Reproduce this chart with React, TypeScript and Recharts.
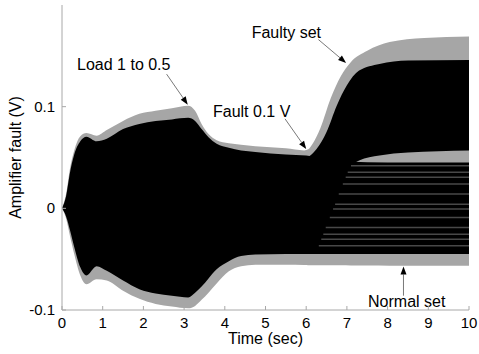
import React from 'react';
import { ComposedChart, Area, Line, XAxis, YAxis, ReferenceLine, ReferenceDot } from 'recharts';

// gray envelope around all trajectories
const envTime = [0, 0.1, 0.2, 0.3, 0.45, 0.6, 0.85, 1.1, 1.5, 1.9, 2.3, 2.7, 3.1, 3.27, 3.43, 3.6, 3.8, 4.1, 4.4, 4.75, 5.5, 5.95, 6.05, 6.15, 6.35, 6.6, 6.85, 7.1, 7.5, 8.05, 8.9, 10];
const envHigh = [0, 0.014, 0.04, 0.057, 0.071, 0.074, 0.0715, 0.077, 0.086, 0.093, 0.096, 0.0985, 0.101, 0.096, 0.083, 0.073, 0.067, 0.064, 0.0625, 0.061, 0.059, 0.057, 0.058, 0.063, 0.079, 0.108, 0.13, 0.144, 0.155, 0.1635, 0.1675, 0.169];
const envLow = [0, -0.01, -0.028, -0.045, -0.066, -0.0746, -0.0697, -0.071, -0.081, -0.089, -0.094, -0.0966, -0.0983, -0.096, -0.09, -0.083, -0.074, -0.062, -0.057, -0.0555, -0.0555, -0.0558, -0.056, -0.056, -0.056, -0.056, -0.056, -0.0562, -0.0563, -0.0564, -0.0565, -0.0565];

// normal set (black lines)
const normalTime = [0, 0.1, 0.2, 0.3, 0.45, 0.6, 0.85, 1.1, 1.5, 1.9, 2.3, 2.7, 3.1, 3.27, 3.43, 3.6, 3.8, 4.1, 4.4, 4.75, 5.5, 6.0, 6.5, 7, 8, 10];
const normalHigh = [0, 0.012, 0.036, 0.053, 0.066, 0.0705, 0.066, 0.0685, 0.078, 0.083, 0.086, 0.0875, 0.089, 0.086, 0.078, 0.07, 0.0635, 0.0595, 0.057, 0.0555, 0.053, 0.052, 0.048, 0.046, 0.045, 0.045];
const normalLow = [0, -0.008, -0.022, -0.038, -0.058, -0.066, -0.057, -0.0615, -0.071, -0.0795, -0.0838, -0.086, -0.0877, -0.083, -0.077, -0.069, -0.06, -0.052, -0.047, -0.0455, -0.045, -0.045, -0.045, -0.045, -0.045, -0.045];

// faulty set after the 0.1 V fault at 6 s
const faultyTime = [6.0, 6.1, 6.25, 6.5, 6.75, 7.0, 7.3, 7.8, 8.5, 10];
const faultyHigh = [0.05, 0.052, 0.058, 0.075, 0.101, 0.121, 0.1355, 0.142, 0.1455, 0.146];
const faultyLow = [-0.045, -0.044, -0.035, -0.012, 0.012, 0.036, 0.047, 0.052, 0.055, 0.057];

// lighter stripes among the steady normal-set lines (level, first visible time)
const stripeLevels = [0.042, 0.0355, 0.0305, 0.024, 0.014, 0.004, -0.0007, -0.009, -0.0188, -0.0254, -0.0304, -0.0369];
const stripeStarts = [7.1, 7.02, 6.97, 6.9, 6.8, 6.71, 6.66, 6.58, 6.48, 6.42, 6.37, 6.31];

const xTicks = [0, 1, 2, 3, 4, 5, 6, 7, 8, 9, 10];
const yTicks = [-0.1, 0, 0.1];
const yTickLabels = ['-0.1', '0', '0.1'];

const notes = [
  { text: 'Load 1 to 0.5', tx: 0.37, ty: 0.136, x1: 2.57, y1: 0.132, x2: 3.09, y2: 0.102 },
  { text: 'Faulty set', tx: 4.66, ty: 0.168, x1: 6.3, y1: 0.166, x2: 6.98, y2: 0.143 },
  { text: 'Fault 0.1 V', tx: 3.71, ty: 0.09, x1: 5.48, y1: 0.088, x2: 6.0, y2: 0.0584 },
  { text: 'Normal set', tx: 7.52, ty: -0.0975, x1: 8.39, y1: -0.0859, x2: 8.39, y2: -0.0572 },
];

const FONT = 'Arial, "Liberation Sans", sans-serif';
const AXIS = '#a8a8a8';
const GRAY = '#a6a6a6';

const band = (ts: number[], lo: number[], hi: number[]) =>
  ts.map((t, i) => ({ t, range: [lo[i], hi[i]] }));

const XTick = ({ x, y, payload }: any) => (
  <g>
    <line x1={x} y1={y} x2={x} y2={y - 4} stroke={AXIS} />
    <text x={x} y={y + 18} textAnchor="middle" fontSize={15} fontFamily={FONT} fill="#000">
      {payload.value}
    </text>
  </g>
);

const YTick = ({ x, y, payload, index }: any) => (
  <g>
    <line x1={x} y1={y} x2={x + 4} y2={y} stroke={AXIS} />
    <text x={x - 7} y={y + 5} textAnchor="end" fontSize={15} fontFamily={FONT} fill="#000">
      {yTickLabels[index] ?? payload.value}
    </text>
  </g>
);

const Arrow = (p: any) => {
  const { x1, y1, x2, y2 } = p;
  const dx = x2 - x1;
  const dy = y2 - y1;
  const len = Math.sqrt(dx * dx + dy * dy) || 1;
  const ux = dx / len;
  const uy = dy / len;
  const bx = x2 - ux * 8;
  const by = y2 - uy * 8;
  return (
    <g>
      <line x1={x1} y1={y1} x2={bx} y2={by} stroke="#555" strokeWidth={0.8} />
      <polygon
        points={`${x2},${y2} ${bx - uy * 3},${by + ux * 3} ${bx + uy * 3},${by - ux * 3}`}
        fill="#000"
      />
    </g>
  );
};

export default function App() {
  return (
    <div style={{ position: 'absolute', left: 0, top: 0, background: '#fff' }}>
      <ComposedChart width={479} height={354} margin={{ top: 5, right: 10, bottom: 0, left: 0 }}>
        <XAxis
          type="number"
          dataKey="t"
          domain={[0, 10]}
          ticks={xTicks}
          allowDataOverflow
          height={44}
          tickSize={0}
          tickMargin={0}
          tickLine={false}
          axisLine={{ stroke: AXIS }}
          tick={<XTick />}
          label={(props: any) => {
            const vb = props.viewBox;
            return (
              <text x={vb.x + vb.width / 2} y={vb.y + 34} textAnchor="middle" fontSize={16} fontFamily={FONT} fill="#000">
                Time (sec)
              </text>
            );
          }}
        />
        <YAxis
          type="number"
          domain={[-0.1, 0.2]}
          ticks={yTicks}
          allowDataOverflow
          width={62}
          tickSize={0}
          tickMargin={0}
          tickLine={false}
          axisLine={{ stroke: AXIS }}
          tick={<YTick />}
          label={(props: any) => {
            const vb = props.viewBox;
            const cx = vb.x + 15;
            const cy = vb.y + vb.height / 2;
            return (
              <text
                x={cx}
                y={cy}
                transform={`rotate(-90, ${cx}, ${cy})`}
                textAnchor="middle"
                dominantBaseline="central"
                fontSize={16}
                fontFamily={FONT}
                fill="#000"
              >
                Amplifier fault (V)
              </text>
            );
          }}
        />
        <Area
          data={band(envTime, envLow, envHigh)}
          dataKey="range"
          type="monotone"
          stroke="none"
          fill={GRAY}
          fillOpacity={1}
          isAnimationActive={false}
        />
        <Area
          data={band(normalTime, normalLow, normalHigh)}
          dataKey="range"
          type="monotone"
          stroke="none"
          fill="#000"
          fillOpacity={1}
          isAnimationActive={false}
        />
        <Area
          data={band(faultyTime, faultyLow, faultyHigh)}
          dataKey="range"
          type="monotone"
          stroke="none"
          fill="#000"
          fillOpacity={1}
          isAnimationActive={false}
        />
        {stripeLevels.map((v, i) => (
          <Line
            key={`s${i}`}
            data={[{ t: stripeStarts[i], v }, { t: 10, v }]}
            dataKey="v"
            stroke="#484848"
            strokeWidth={1.5}
            dot={false}
            isAnimationActive={false}
          />
        ))}
        {notes.map((n, i) => (
          <ReferenceLine
            key={`a${i}`}
            segment={[{ x: n.x1, y: n.y1 }, { x: n.x2, y: n.y2 }]}
            ifOverflow="visible"
            shape={(p: any) => <Arrow {...p} />}
          />
        ))}
        {notes.map((n, i) => (
          <ReferenceDot
            key={`t${i}`}
            x={n.tx}
            y={n.ty}
            ifOverflow="visible"
            shape={(p: any) => (
              <text x={p.cx} y={p.cy} fontSize={16} fontFamily={FONT} fill="#000">
                {n.text}
              </text>
            )}
          />
        ))}
      </ComposedChart>
    </div>
  );
}
